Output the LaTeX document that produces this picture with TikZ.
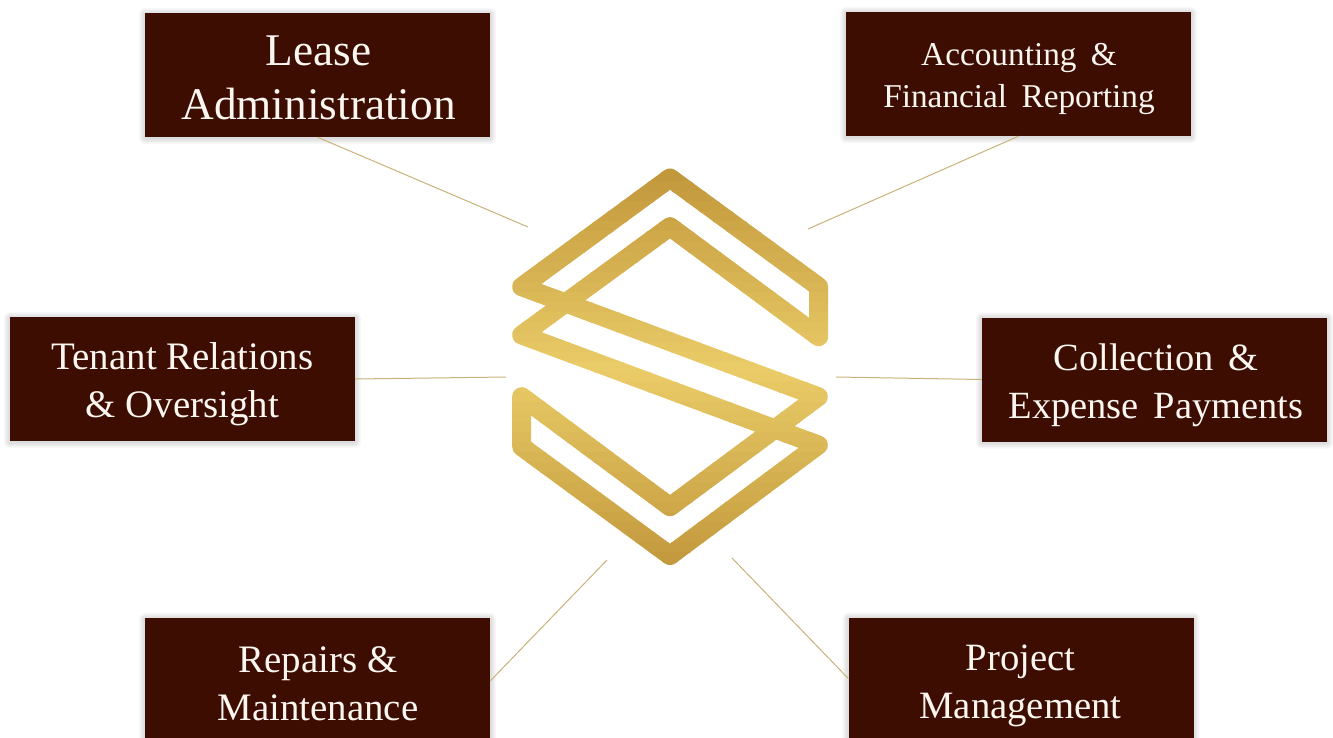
\documentclass[tikz,border=0pt]{standalone}
\usepackage{fontspec}
\setmainfont{Liberation Serif}
\usetikzlibrary{backgrounds}
\definecolor{boxbrown}{HTML}{3D0D02}
\definecolor{linkgold}{HTML}{C9B27A}
\definecolor{golddark}{HTML}{C2983C}
\definecolor{goldlight}{HTML}{EACC68}
\definecolor{boxtext}{HTML}{FBF6F0}
\tikzset{
  box/.style={draw=none,fill=boxbrown,minimum width=345pt,minimum height=124pt,inner sep=0pt},
  lowbox/.style={box,minimum height=120pt},
  label/.style={text=boxtext,align=center,inner sep=0pt},
  link/.style={draw=linkgold,line width=1pt},
}
\newcommand{\logopath}{(670,178) -- (521.7,286.7) -- (818.3,396.7) -- (670,506.7) -- (521.7,396.7) -- (521.7,446.7) -- (670,555.5) -- (818.3,445) -- (521.7,335) -- (670,226.7) -- (818.6,336.7) -- (818.6,286.7) -- cycle}
\begin{document}
\begin{tikzpicture}[x=1pt,y=-1pt]
\useasboundingbox (0,0) rectangle (1333,738);
% boxes
\node[box] (lease) at (317.5,75) {};
\node[box] (accounting) at (1018.5,74) {};
\node[box] (tenant) at (182.5,379) {};
\node[box] (collection) at (1154.5,379.5) {};
\node[lowbox] (repairs) at (317.5,678) {};
\node[lowbox] (project) at (1021,677.5) {};
% soft shadows
\begin{scope}[on background layer]
\foreach \b in {lease,accounting,tenant,collection,repairs,project}{
  \foreach \e in {1,2,3,4,5,6}{
    \fill[black,opacity=.022,rounded corners=\e pt]
      ([xshift=-\e pt,yshift=\e pt-1pt]\b.north west) rectangle ([xshift=\e pt,yshift=-\e pt-1pt]\b.south east);
  }
}
\end{scope}
% texts
\node[label,font=\fontsize{45.3}{54}\selectfont] (leaseT) at (318.5,77.5) {Lease\\Administration};
\node[label,font=\fontsize{33.3}{42}\selectfont] (accountingT) at (1019,79) {Accounting\hspace{6pt} \&\\Financial\hspace{6pt} Reporting};
\node[label,font=\fontsize{38.9}{48}\selectfont] (tenantT) at (182.5,384) {Tenant Relations\\\& Oversight};
\node[label,font=\fontsize{38.5}{48}\selectfont] (collectionT) at (1156,385) {Collection\hspace{5pt} \&\\Expense\hspace{5pt} Payments};
\node[label,font=\fontsize{38.9}{48}\selectfont] (repairsT) at (318,683.5) {Repairs \&\\Maintenance};
\node[label,font=\fontsize{38.7}{48}\selectfont] (projectT) at (1020.5,686) {Project\\Management};
% free ends of connectors
\coordinate (c1) at (528,227);
\coordinate (c2) at (808,229);
\coordinate (c3) at (506,377);
\coordinate (c4) at (836,377);
\coordinate (c5) at (607,560);
\coordinate (c6) at (732,558);
\draw[link] (lease.south) -- (c1);
\draw[link] (accounting.south) -- (c2);
\draw[link] (tenant.east) -- (c3);
\draw[link] (collection.west) -- (c4);
\draw[link] ([yshift=-3pt]repairs.east) -- (c5);
\draw[link] ([yshift=-1pt]project.west) -- (c6);
% logo, stroked band by band for the gold gradient
\foreach \i in {0,...,41}{
  \pgfmathsetmacro{\ya}{162+\i*10}
  \pgfmathsetmacro{\yb}{\ya+10.5}
  \pgfmathsetmacro{\p}{max(0,100*(1-abs(\ya+5-370)/195))}
  \begin{scope}
    \clip (500,\ya) rectangle (840,\yb);
    \draw[goldlight!\p!golddark,line width=19pt,line join=round] \logopath;
  \end{scope}
}
\end{tikzpicture}
\end{document}
